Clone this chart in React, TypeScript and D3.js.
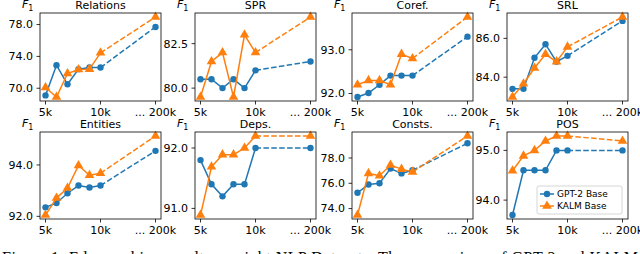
import React from 'react';
import * as d3 from 'd3';

// training sizes (x axis)
const steps = ['5k', '6k', '7k', '8k', '9k', '10k', '200k'];
const xTickLabels = ['5k', '10k', '... 200k'];

const titles = ['Relations', 'SPR', 'Coref.', 'SRL', 'Entities', 'Deps.', 'Consts.', 'POS'];

// GPT-2 Base
const relationsGpt = [69.1, 72.9, 70.5, 72.4, 72.6, 72.6, 77.7];
const sprGpt = [80.5, 80.5, 80.0, 80.5, 80.0, 81.0, 81.5];
const corefGpt = [91.92, 92.01, 92.2, 92.41, 92.41, 92.41, 93.3];
const srlGpt = [83.4, 83.4, 85.0, 85.7, 84.8, 85.1, 86.9];
const entitiesGpt = [92.35, 92.52, 92.9, 93.2, 93.12, 93.2, 94.55];
const depsGpt = [91.8, 91.4, 91.2, 91.4, 91.4, 92.0, 92.0];
const constsGpt = [75.25, 75.9, 76.0, 77.16, 76.78, 77.03, 79.16];
const posGpt = [93.7, 94.6, 94.6, 94.6, 95.0, 95.0, 95.0];

// KALM Base
const relationsKalm = [70.1, 68.9, 71.85, 72.35, 72.4, 74.45, 78.95];
const sprKalm = [79.5, 81.5, 82.0, 79.5, 83.0, 82.0, 84.0];
const corefKalm = [92.2, 92.3, 92.3, 92.2, 92.9, 92.8, 93.75];
const srlKalm = [82.98, 83.66, 84.47, 85.18, 84.8, 85.56, 87.1];
const entitiesKalm = [92.05, 92.71, 93.1, 93.98, 93.6, 93.68, 95.13];
const depsKalm = [90.89, 91.69, 91.89, 91.89, 92.0, 92.2, 92.2];
const constsKalm = [73.49, 76.78, 76.6, 77.44, 77.12, 76.9, 79.74];
const posKalm = [94.59, 94.89, 95.0, 95.19, 95.29, 95.29, 95.19];

// y tick values per panel
const relationsTicks = [70, 74, 78];
const sprTicks = [80, 82.5];
const corefTicks = [92, 93];
const srlTicks = [84, 86];
const entitiesTicks = [92, 94];
const depsTicks = [91, 92];
const constsTicks = [74, 76, 78];
const posTicks = [94, 95];

const gptSeries = [relationsGpt, sprGpt, corefGpt, srlGpt, entitiesGpt, depsGpt, constsGpt, posGpt];
const kalmSeries = [relationsKalm, sprKalm, corefKalm, srlKalm, entitiesKalm, depsKalm, constsKalm, posKalm];
const yTicks = [relationsTicks, sprTicks, corefTicks, srlTicks, entitiesTicks, depsTicks, constsTicks, posTicks];

const BLUE = '#1f77b4';
const ORANGE = '#ff7f0e';
const FONT = 'DejaVu Sans, sans-serif';

const W = 640;
const H = 254;
const colLeft = [40, 195, 352, 507];
const panelW = 121;
const rowTop = [13, 132];
const rowBottom = [101, 219];

// x index: 5k..10k consecutive, then a gap before 200k
const xIndex = (i: number) => (i < steps.length - 1 ? i : 10);

function Panel({ idx }: { idx: number }) {
  const col = idx % 4;
  const row = Math.floor(idx / 4);
  const left = colLeft[col];
  const top = rowTop[row];
  const bottom = rowBottom[row];
  const gpt = gptSeries[idx];
  const kalm = kalmSeries[idx];

  const x = d3.scaleLinear().domain([-0.5, 10.5]).range([left, left + panelW]);
  const [lo, hi] = d3.extent([...gpt, ...kalm]) as [number, number];
  const pad = (hi - lo) * 0.05;
  const y = d3.scaleLinear().domain([lo - pad, hi + pad]).range([bottom, top]);

  const solid = d3
    .line<number>()
    .x((d, i) => x(xIndex(i)))
    .y((d) => y(d));
  const last = steps.length - 1;
  const dashed = (vals: number[]) =>
    `M${x(xIndex(last - 1))},${y(vals[last - 1])}L${x(xIndex(last))},${y(vals[last])}`;

  const tri = d3.symbol().type(d3.symbolTriangle).size(40)()!;
  const fmt = d3.format('.1f');
  const xTickPos = [0, 5, 10];

  return (
    <g>
      {/* y ticks */}
      {yTicks[idx].map((t) => (
        <g key={t}>
          <line x1={left - 3.5} x2={left} y1={y(t)} y2={y(t)} stroke="#000" strokeWidth={0.8} />
          <text x={left - 7} y={y(t)} dy="0.35em" textAnchor="end" fontSize={11} fontFamily={FONT}>
            {fmt(t)}
          </text>
        </g>
      ))}
      {/* x ticks */}
      {xTickPos.map((p, i) => (
        <g key={p}>
          <line x1={x(p)} x2={x(p)} y1={bottom} y2={bottom + 3.5} stroke="#000" strokeWidth={0.8} />
          <text x={x(p)} y={bottom + 15} textAnchor="middle" fontSize={11} fontFamily={FONT}>
            {xTickLabels[i]}
          </text>
        </g>
      ))}
      {/* GPT-2 */}
      <path d={solid(gpt.slice(0, last))!} fill="none" stroke={BLUE} strokeWidth={1.5} />
      <path d={dashed(gpt)} fill="none" stroke={BLUE} strokeWidth={1.5} strokeDasharray="5.5,2.4" />
      {gpt.map((v, i) => (
        <circle key={i} cx={x(xIndex(i))} cy={y(v)} r={3.2} fill={BLUE} />
      ))}
      {/* KALM */}
      <path d={solid(kalm.slice(0, last))!} fill="none" stroke={ORANGE} strokeWidth={1.5} />
      <path d={dashed(kalm)} fill="none" stroke={ORANGE} strokeWidth={1.5} strokeDasharray="5.5,2.4" />
      {kalm.map((v, i) => (
        <path key={i} d={tri} transform={`translate(${x(xIndex(i))},${y(v)})`} fill={ORANGE} />
      ))}
      {/* frame */}
      <rect x={left} y={top} width={panelW} height={bottom - top} fill="none" stroke="#000" strokeWidth={0.8} />
      {/* title and F1 label */}
      <text x={left + panelW / 2} y={top - 4.5} textAnchor="middle" fontSize={11} fontFamily={FONT}>
        {titles[idx]}
      </text>
      <text x={left - 18} y={top - 5} fontSize={11} fontFamily={FONT}>
        <tspan fontStyle="italic">F</tspan>
        <tspan fontSize={8} dy={2.5}>1</tspan>
      </text>
    </g>
  );
}

function Legend() {
  const lx = 537;
  const ly = 186;
  return (
    <g fontFamily={FONT} fontSize={9}>
      <rect x={lx} y={ly} width={85} height={28} rx={2} fill="#fff" fillOpacity={0.8} stroke="#ccc" strokeWidth={0.8} />
      <line x1={lx + 3} x2={lx + 17} y1={ly + 8} y2={ly + 8} stroke={BLUE} strokeWidth={1.5} />
      <circle cx={lx + 10} cy={ly + 8} r={3.2} fill={BLUE} />
      <text x={lx + 20} y={ly + 8} dy="0.35em">GPT-2 Base</text>
      <line x1={lx + 3} x2={lx + 17} y1={ly + 20} y2={ly + 20} stroke={ORANGE} strokeWidth={1.5} />
      <path d={d3.symbol().type(d3.symbolTriangle).size(40)()!} transform={`translate(${lx + 10},${ly + 20})`} fill={ORANGE} />
      <text x={lx + 20} y={ly + 20} dy="0.35em">KALM Base</text>
    </g>
  );
}

export default function App() {
  return (
    <svg width={W} height={H} style={{ position: 'absolute', left: 0, top: 0, background: '#fff' }}>
      <rect width={W} height={H} fill="#fff" />
      {titles.map((t, i) => (
        <Panel key={t} idx={i} />
      ))}
      <Legend />
      <text x={2} y={263} fontSize={16} fontFamily="Liberation Serif, serif" textLength={636} lengthAdjust="spacing">
        Figure 1: Edge probing results on eight NLP Datasets. The comparison of GPT-2 and KALM
      </text>
    </svg>
  );
}
